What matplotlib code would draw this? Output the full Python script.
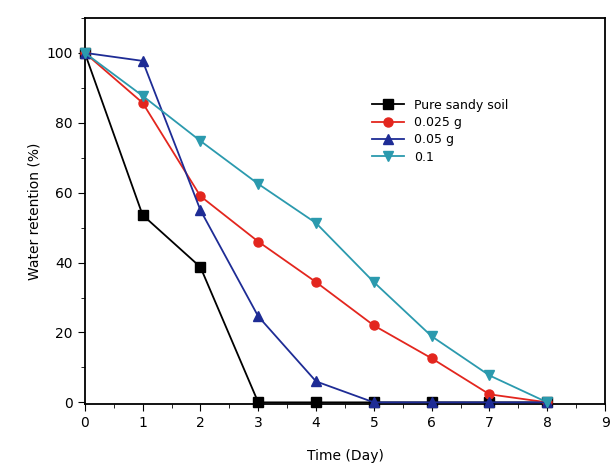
import matplotlib
matplotlib.use("Agg")
import matplotlib.pyplot as plt
from matplotlib.ticker import MultipleLocator

days = [0, 1, 2, 3, 4, 5, 6, 7, 8]
pure_sandy = [100, 53.6, 38.7, 0, 0, 0, 0, 0, 0]
g_0025 = [100, 85.7, 59.0, 46.0, 34.4, 22.0, 12.6, 2.3, 0]
g_005 = [100, 97.7, 55.0, 24.6, 6.0, 0, 0, 0, 0]
g_01 = [100, 87.7, 74.8, 62.5, 51.3, 34.4, 18.9, 7.7, 0]

labels = ["Pure sandy soil", "0.025 g", "0.05 g", "0.1"]
colors = ["black", "#E3261E", "#1E2C95", "#2B9AAE"]
markers = ["s", "o", "^", "v"]

fig = plt.figure(figsize=(6.1, 4.71), dpi=100)
ax = fig.add_axes([0.139, 0.142, 0.853, 0.82])

for values, label, color, marker in zip(
    [pure_sandy, g_0025, g_005, g_01], labels, colors, markers
):
    ax.plot(days, values, color=color, marker=marker, markersize=6.5,
            linewidth=1.3, label=label, clip_on=False, zorder=3)

ax.set_xlim(0, 9)
ax.set_ylim(-0.5, 110)
ax.set_xticks(range(0, 10))
ax.set_yticks(range(0, 101, 20))
ax.xaxis.set_minor_locator(MultipleLocator(0.5))
ax.yaxis.set_minor_locator(MultipleLocator(10))
ax.tick_params(which="major", direction="out", length=5, labelsize=10)
ax.tick_params(which="minor", direction="out", length=3)
for spine in ax.spines.values():
    spine.set_linewidth(1.3)

ax.set_xlabel("Time (Day)", fontsize=10, labelpad=14)
ax.set_ylabel("Water retention (%)", fontsize=10)

ax.legend(loc="upper left", bbox_to_anchor=(0.53, 0.82), frameon=False,
          fontsize=9, handlelength=2.6, labelspacing=0.35)

fig.savefig("out.png", dpi=100)
